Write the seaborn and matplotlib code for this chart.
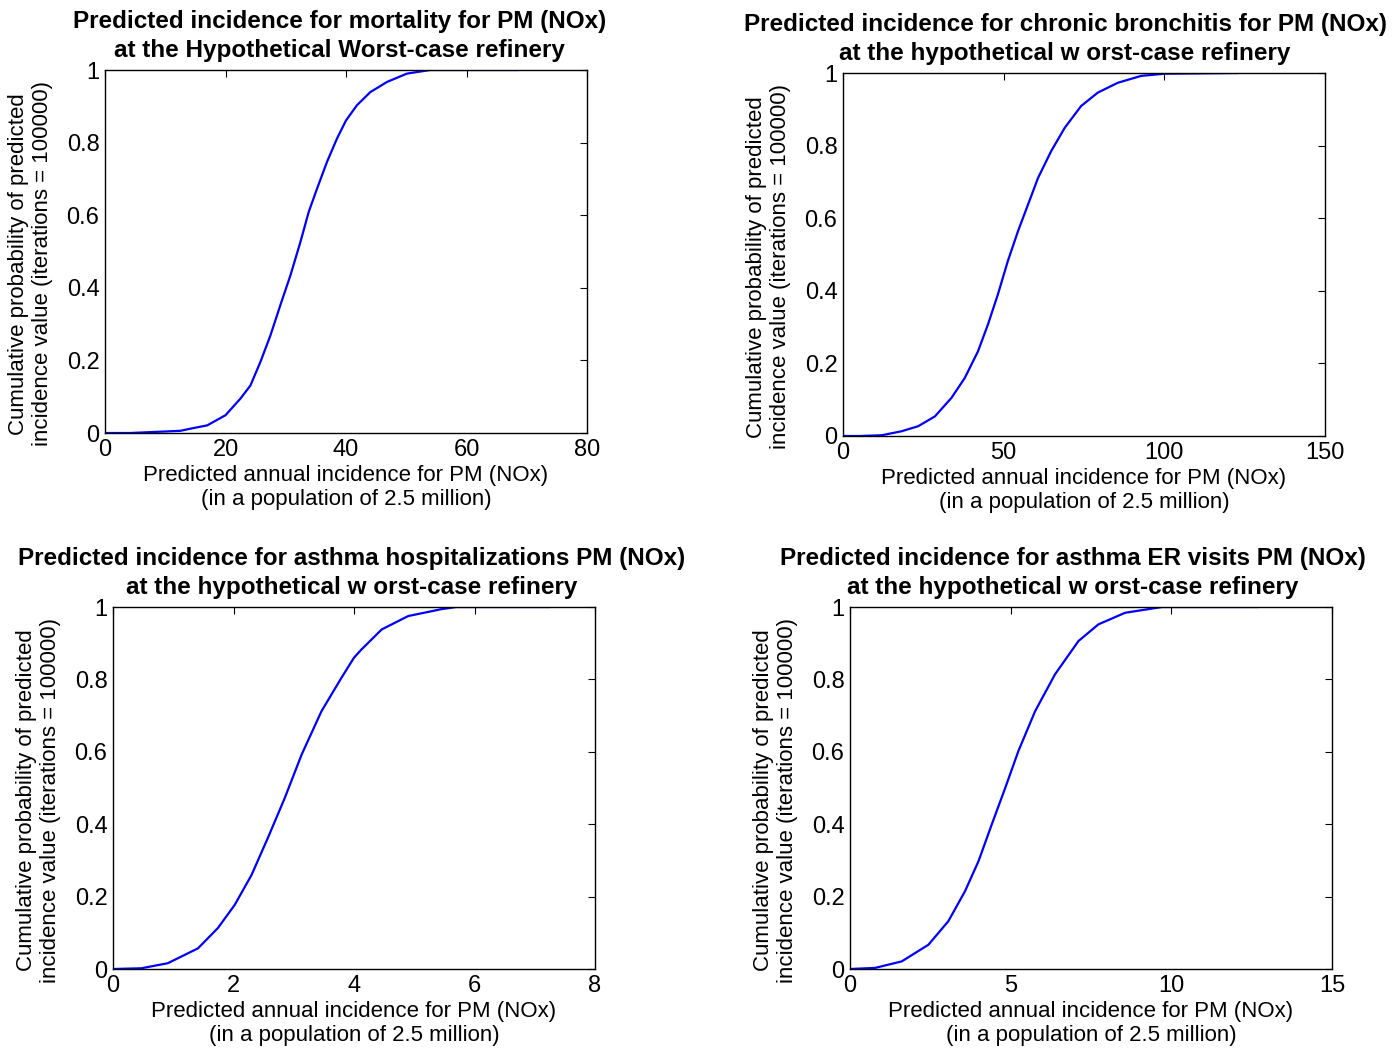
import matplotlib
matplotlib.use("Agg")
import matplotlib.pyplot as plt
import seaborn as sns
import pandas as pd

# Cumulative distributions of predicted annual incidence (100000 iterations)
mortality_x = [0, 4.2, 12.5, 14.2, 16.96, 20.0, 22.49, 24.14, 25.8, 27.46, 29.1, 30.77,
               32.43, 33.81, 35.19, 36.85, 38.5, 40.0, 41.82, 44.03, 46.8, 50.1, 53.98, 68.7]
mortality_p = [0, 0.0, 0.006, 0.012, 0.021, 0.049, 0.095, 0.131, 0.196, 0.269, 0.352, 0.434,
               0.526, 0.609, 0.673, 0.747, 0.811, 0.861, 0.903, 0.939, 0.967, 0.990, 1.0, 1.0]

bronchitis_x = [0, 5.0, 12.0, 18.2, 23.4, 28.6, 33.75, 37.9, 42.0, 45.1, 48.2, 51.3,
                54.45, 57.6, 60.7, 64.8, 69.0, 74.1, 79.3, 85.5, 92.75, 100.0, 123.0]
bronchitis_p = [0, 0.0, 0.002, 0.013, 0.027, 0.054, 0.105, 0.160, 0.233, 0.307, 0.390, 0.482,
                0.564, 0.638, 0.711, 0.785, 0.849, 0.909, 0.946, 0.973, 0.992, 0.998, 1.0]

hosp_x = [0, 0.47, 0.91, 1.41, 1.74, 2.02, 2.30, 2.57, 2.85, 3.13, 3.46, 3.79,
          4.0, 4.12, 4.46, 4.90, 5.45, 5.70, 7.25]
hosp_p = [0, 0.002, 0.016, 0.057, 0.113, 0.177, 0.260, 0.362, 0.472, 0.592, 0.712, 0.804,
          0.860, 0.882, 0.938, 0.975, 0.994, 1.0, 1.0]

er_x = [0, 0.78, 1.61, 2.44, 3.06, 3.58, 4.0, 4.41, 4.83, 5.24, 5.76, 6.38,
        7.11, 7.73, 8.56, 9.71, 12.72]
er_p = [0, 0.003, 0.021, 0.067, 0.132, 0.215, 0.298, 0.399, 0.500, 0.602, 0.712, 0.814,
        0.906, 0.952, 0.984, 1.0, 1.0]

titles = [
    "Predicted incidence for mortality for PM (NOx)\nat the Hypothetical Worst-case refinery",
    "Predicted incidence for chronic bronchitis for PM (NOx)\nat the hypothetical w orst-case refinery",
    "Predicted incidence for asthma hospitalizations PM (NOx)\nat the hypothetical w orst-case refinery",
    "Predicted incidence for asthma ER visits PM (NOx)\nat the hypothetical w orst-case refinery",
]
x_limits = [80, 150, 8, 15]
x_ticks = [[0, 20, 40, 60, 80], [0, 50, 100, 150], [0, 2, 4, 6, 8], [0, 5, 10, 15]]
y_ticks = [0, 0.2, 0.4, 0.6, 0.8, 1]
x_label = "Predicted annual incidence for PM (NOx)\n(in a population of 2.5 million)"
y_label = "Cumulative probability of predicted\nincidence value (iterations = 100000)"

series = [(mortality_x, mortality_p), (bronchitis_x, bronchitis_p),
          (hosp_x, hosp_p), (er_x, er_p)]

sns.set_theme(style="white")
plt.rcParams["font.family"] = ["Liberation Sans", "DejaVu Sans"]

W, H = 1396, 1052
fig = plt.figure(figsize=(W / 100, H / 100), dpi=100)

# axes boxes in pixels: left, top, right, bottom
boxes = [(105, 70, 587, 433), (843, 73, 1325, 436),
         (113, 607, 595, 969), (850, 607, 1332, 969)]
# horizontal title centres, in axes fraction
title_x = [0.4865, 0.4606, 0.496, 0.4616]


def fmt(v):
    return f"{v:g}"


for (xs, ps), box, title, tx, xmax, xt in zip(series, boxes, titles, title_x,
                                              x_limits, x_ticks):
    l, t, r, b = box
    ax = fig.add_axes([l / W, 1 - b / H, (r - l) / W, (b - t) / H])
    df = pd.DataFrame({"incidence": xs, "probability": ps})
    sns.lineplot(data=df, x="incidence", y="probability", ax=ax, color="#0000ff",
                 linewidth=1.6, estimator=None, sort=False)
    ax.set_xlim(0, xmax)
    ax.set_ylim(0, 1)
    ax.set_xticks(xt)
    ax.set_xticklabels([fmt(v) for v in xt])
    ax.set_yticks(y_ticks)
    ax.set_yticklabels([fmt(v) for v in y_ticks])
    ax.tick_params(direction="in", length=5, width=0.8, top=True, right=True,
                   labelsize=17, colors="black", pad=4)
    for s in ax.spines.values():
        s.set_visible(True)
        s.set_color("black")
        s.set_linewidth(1.0)
    ax.set_title(title, fontsize=17.5, fontweight="bold", pad=9.5, linespacing=1.3,
                 x=tx, color="black")
    ax.set_xlabel(x_label, fontsize=16, labelpad=3, linespacing=1.2, color="black")
    ax.set_ylabel(y_label, fontsize=16, linespacing=1.2, color="black")
    ax.yaxis.set_label_coords(-52 / (r - l), 0.4656)

fig.savefig("out.png", dpi=100, facecolor="white")
